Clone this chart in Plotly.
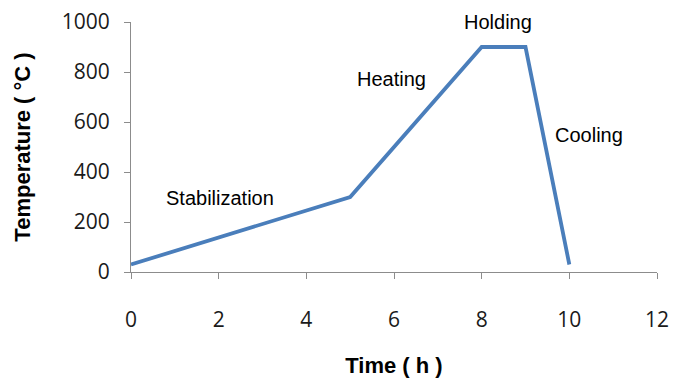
import plotly.graph_objects as go

# Heat-treatment schedule: time (h) vs temperature (°C)
time_h = [0, 5, 8, 9, 10]
temp_c = [30, 300, 900, 900, 30]

# Stage labels and where they sit on the chart
stage_names = ["Stabilization", "Heating", "Holding", "Cooling"]
stage_x = [2.03, 5.95, 8.37, 10.45]
stage_y = [296, 772, 1000, 548]

x_ticks = [0, 2, 4, 6, 8, 10, 12]
y_ticks = [0, 200, 400, 600, 800, 1000]

fig = go.Figure()
fig.add_trace(go.Scatter(
    x=time_h, y=temp_c, mode="lines",
    line=dict(color="#4a7ebb", width=3.8),
    hoverinfo="skip", showlegend=False,
))

for name, sx, sy in zip(stage_names, stage_x, stage_y):
    fig.add_annotation(
        x=sx, y=sy, text=name, showarrow=False,
        font=dict(family="Liberation Sans, Arial, sans-serif", size=20, color="#000000"),
        xanchor="center", yanchor="middle",
    )

axis_font = dict(family="Open Sans, sans-serif", size=21, color="#1a1a1a")
title_font = dict(family="Liberation Sans, Arial, sans-serif", size=22, color="#000000")

fig.update_layout(
    width=673, height=378,
    margin=dict(l=131, r=16, t=22, b=106, autoexpand=False),
    paper_bgcolor="white", plot_bgcolor="white",
    xaxis=dict(
        range=[0, 12], tickvals=x_ticks, ticktext=[str(v) for v in x_ticks],
        showgrid=False, zeroline=False, automargin=False,
        showline=True, linecolor="#8c8c8c", linewidth=1,
        ticks="outside", ticklen=6, tickcolor="#8c8c8c",
        tickfont=axis_font, ticklabelstandoff=23,
        title=dict(text="<b>Time ( h )</b>", font=title_font, standoff=26),
    ),
    yaxis=dict(
        range=[0, 1000], tickvals=y_ticks, ticktext=[str(v) for v in y_ticks],
        showgrid=False, zeroline=False, automargin=False,
        showline=True, linecolor="#8c8c8c", linewidth=1,
        ticks="outside", ticklen=6, tickcolor="#8c8c8c",
        tickfont=axis_font, ticklabelstandoff=10,
        title=dict(text="<b>Temperature ( °C )</b>", font=title_font, standoff=25),
    ),
)

fig.write_html("out.html")
